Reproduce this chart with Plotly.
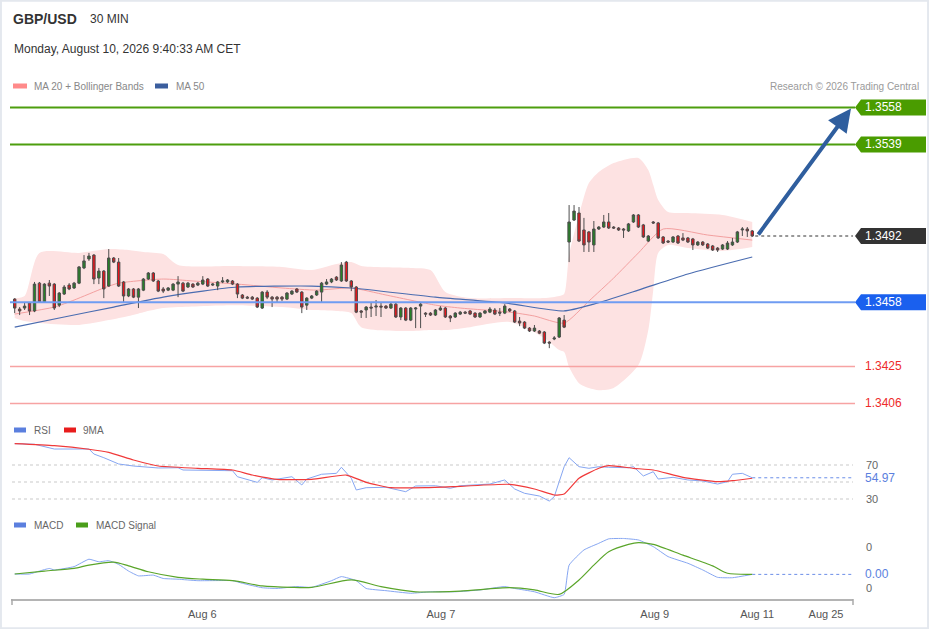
import plotly.graph_objects as go

# ---------------- data ----------------
open_ = [1.34596,1.34545,1.34550,1.34576,1.34535,1.34678,1.34581,1.34678,1.34673,1.34565,
 1.34622,1.34668,1.34653,1.34678,1.34756,1.34802,1.34822,1.34704,1.34740,1.34663,
 1.34807,1.34786,1.34684,1.34612,1.34648,1.34606,1.34642,1.34699,1.34730,1.34689,
 1.34648,1.34642,1.34642,1.34673,1.34678,1.34658,1.34673,1.34668,1.34673,1.34699,
 1.34668,1.34663,1.34684,1.34684,1.34689,1.34673,1.34617,1.34606,1.34606,1.34601,
 1.34550,1.34632,1.34606,1.34606,1.34606,1.34596,1.34622,1.34648,1.34632,1.34565,
 1.34601,1.34617,1.34632,1.34673,1.34684,1.34709,1.34689,1.34786,1.34689,1.34658,
 1.34535,1.34540,1.34555,1.34555,1.34560,1.34560,1.34550,1.34570,1.34504,1.34550,
 1.34488,1.34545,1.34560,1.34524,1.34524,1.34514,1.34540,1.34550,1.34509,1.34504,
 1.34519,1.34529,1.34535,1.34524,1.34504,1.34524,1.34529,1.34540,1.34529,1.34524,
 1.34545,1.34535,1.34483,1.34478,1.34447,1.34432,1.34432,1.34427,1.34375,1.34391,
 1.34401,1.34488,1.34889,1.35002,1.35038,1.34951,1.34941,1.34874,1.34956,1.34966,
 1.34992,1.34966,1.34961,1.34956,1.34946,1.34992,1.35028,1.34977,1.34894,1.34992,
 1.34987,1.34915,1.34894,1.34889,1.34920,1.34910,1.34910,1.34905,1.34874,1.34889,
 1.34879,1.34869,1.34858,1.34853,1.34853,1.34874,1.34889,1.34951,1.34956,1.34946]
high = [1.34601,1.34555,1.34576,1.34581,1.34684,1.34684,1.34678,1.34694,1.34678,1.34632,
 1.34668,1.34678,1.34684,1.34766,1.34822,1.34833,1.34827,1.34756,1.34745,1.34853,
 1.34812,1.34807,1.34689,1.34653,1.34653,1.34653,1.34704,1.34735,1.34735,1.34694,
 1.34658,1.34658,1.34678,1.34714,1.34684,1.34684,1.34678,1.34684,1.34714,1.34704,
 1.34678,1.34689,1.34709,1.34699,1.34694,1.34678,1.34622,1.34612,1.34612,1.34606,
 1.34637,1.34642,1.34612,1.34612,1.34612,1.34632,1.34642,1.34653,1.34637,1.34606,
 1.34617,1.34642,1.34684,1.34699,1.34704,1.34714,1.34786,1.34792,1.34694,1.34663,
 1.34540,1.34560,1.34581,1.34591,1.34581,1.34565,1.34576,1.34576,1.34555,1.34555,
 1.34555,1.34555,1.34581,1.34529,1.34529,1.34545,1.34560,1.34555,1.34514,1.34529,
 1.34535,1.34535,1.34540,1.34529,1.34529,1.34540,1.34555,1.34550,1.34550,1.34570,
 1.34550,1.34540,1.34504,1.34483,1.34452,1.34463,1.34437,1.34432,1.34380,1.34406,
 1.34504,1.34514,1.35079,1.35079,1.35069,1.35013,1.34946,1.34997,1.34971,1.35028,
 1.35038,1.34971,1.34966,1.34961,1.34987,1.35033,1.35033,1.34982,1.34925,1.34997,
 1.34992,1.34920,1.34899,1.34920,1.34925,1.34935,1.34915,1.34910,1.34894,1.34894,
 1.34884,1.34874,1.34863,1.34879,1.34894,1.34910,1.34946,1.34966,1.34966,1.34951]
low = [1.34524,1.34514,1.34540,1.34514,1.34529,1.34576,1.34576,1.34612,1.34540,1.34555,
 1.34617,1.34642,1.34648,1.34673,1.34750,1.34792,1.34673,1.34673,1.34601,1.34658,
 1.34781,1.34658,1.34576,1.34606,1.34601,1.34550,1.34637,1.34694,1.34684,1.34632,
 1.34627,1.34637,1.34637,1.34606,1.34632,1.34653,1.34653,1.34663,1.34668,1.34658,
 1.34663,1.34642,1.34678,1.34678,1.34668,1.34601,1.34596,1.34596,1.34591,1.34550,
 1.34545,1.34596,1.34555,1.34581,1.34586,1.34591,1.34617,1.34627,1.34524,1.34540,
 1.34596,1.34612,1.34581,1.34668,1.34678,1.34689,1.34684,1.34684,1.34637,1.34524,
 1.34499,1.34499,1.34504,1.34509,1.34504,1.34545,1.34545,1.34499,1.34488,1.34483,
 1.34483,1.34447,1.34447,1.34504,1.34509,1.34509,1.34535,1.34499,1.34478,1.34499,
 1.34514,1.34519,1.34514,1.34499,1.34499,1.34519,1.34524,1.34514,1.34509,1.34519,
 1.34529,1.34473,1.34457,1.34442,1.34427,1.34427,1.34416,1.34365,1.34344,1.34385,
 1.34396,1.34447,1.34786,1.34997,1.34889,1.34838,1.34838,1.34838,1.34951,1.34961,
 1.34956,1.34956,1.34946,1.34910,1.34941,1.34987,1.34961,1.34910,1.34889,1.34982,
 1.34905,1.34879,1.34884,1.34884,1.34879,1.34894,1.34884,1.34848,1.34869,1.34869,
 1.34853,1.34843,1.34838,1.34848,1.34848,1.34869,1.34884,1.34920,1.34915,1.34915]
close = [1.34550,1.34535,1.34560,1.34535,1.34673,1.34581,1.34673,1.34663,1.34550,1.34627,
 1.34658,1.34648,1.34678,1.34761,1.34792,1.34817,1.34699,1.34740,1.34648,1.34807,
 1.34786,1.34663,1.34612,1.34648,1.34606,1.34648,1.34699,1.34730,1.34689,1.34637,
 1.34637,1.34653,1.34673,1.34684,1.34637,1.34678,1.34658,1.34678,1.34694,1.34663,
 1.34673,1.34684,1.34689,1.34694,1.34673,1.34622,1.34601,1.34601,1.34596,1.34555,
 1.34632,1.34606,1.34596,1.34596,1.34596,1.34627,1.34637,1.34632,1.34555,1.34601,
 1.34612,1.34637,1.34678,1.34684,1.34699,1.34694,1.34771,1.34689,1.34658,1.34529,
 1.34529,1.34555,1.34550,1.34560,1.34555,1.34550,1.34570,1.34504,1.34550,1.34488,
 1.34550,1.34550,1.34570,1.34519,1.34514,1.34540,1.34550,1.34504,1.34499,1.34524,
 1.34529,1.34524,1.34519,1.34504,1.34524,1.34535,1.34545,1.34519,1.34524,1.34560,
 1.34535,1.34478,1.34473,1.34447,1.34432,1.34447,1.34421,1.34370,1.34370,1.34396,
 1.34499,1.34452,1.34992,1.35048,1.34894,1.34874,1.34889,1.34956,1.34966,1.34992,
 1.34961,1.34961,1.34951,1.34951,1.34982,1.35028,1.34966,1.34915,1.34920,1.34987,
 1.34910,1.34884,1.34889,1.34915,1.34884,1.34899,1.34889,1.34874,1.34889,1.34874,
 1.34858,1.34848,1.34848,1.34874,1.34884,1.34889,1.34941,1.34956,1.34946,1.34920]

ma20_idx = [0, 8, 12, 18, 21, 30, 36, 45, 54, 61, 68, 75, 85, 90, 100, 105, 111, 116, 121, 126, 131, 140, 149]
ma20 = [1.34519, 1.34555, 1.34591, 1.34653, 1.34678, 1.34699, 1.34689, 1.34673, 1.34653, 1.34642, 1.34653,
        1.34617, 1.34565, 1.34550, 1.34529, 1.34509, 1.34473, 1.34586, 1.34704, 1.34833, 1.34956, 1.34925, 1.34899]

ma50_idx = [0, 10, 20, 30, 38, 45, 60, 68, 85, 99, 111, 117, 126, 136, 149]
ma50 = [1.34452, 1.34504, 1.34555, 1.34606, 1.34637, 1.34658, 1.34663, 1.34653, 1.34606, 1.34576,
        1.34535, 1.34570, 1.34642, 1.34725, 1.34812]

bb_idx = [0, 2, 5, 13, 19, 23, 26, 30, 33, 44, 54, 60, 65, 68, 70, 80, 84, 87, 92, 100, 107, 110, 111,
          112, 114, 116, 118, 121, 126, 128, 129, 130, 132, 136, 143, 149]
bb_upper = [1.34601, 1.34612, 1.34833, 1.34833, 1.34853, 1.34848, 1.34838, 1.34827, 1.34771, 1.34766,
            1.34761, 1.34745, 1.34776, 1.34786, 1.34766, 1.34756, 1.34745, 1.34632, 1.34601, 1.34601,
            1.34601, 1.34612, 1.34622, 1.34822, 1.35028, 1.35192, 1.35249, 1.35295, 1.35321, 1.35259,
            1.35182, 1.35105, 1.35043, 1.35038, 1.35028, 1.34992]
bb_lower = [1.34499, 1.34483, 1.34473, 1.34463, 1.34488, 1.34509, 1.34529, 1.34550, 1.34555, 1.34565,
            1.34555, 1.34540, 1.34535, 1.34524, 1.34452, 1.34432, 1.34437, 1.34437, 1.34452, 1.34478,
            1.34396, 1.34334, 1.34324, 1.34247, 1.34164, 1.34139, 1.34128, 1.34139, 1.34257, 1.34437,
            1.34642, 1.34833, 1.34874, 1.34858, 1.34843, 1.34863]

rsi_idx = [0,4,8,15,16,18,21,24,29,33,34,41,44,45,49,50,52,56,58,59,62,65,66,68,69,71,75,79,81,85,88,90,
           96,99,101,103,106,108,109,110,111,112,114,116,118,120,124,125,127,129,130,133,136,139,142,144,145,147,149]
rsi = [95.1,94.4,88.8,88.8,82.9,78.6,71.2,68.8,66.5,66.8,64.1,64.1,63.3,56.2,49.6,55.1,52.4,56.2,46.5,53.5,
       59.1,60.2,67.3,54.4,40.6,43.3,43.8,38.6,45.3,45.6,42.6,45.6,47.6,52.4,41.8,36.7,33.5,27.6,32.7,50.4,
       68.0,78.6,68.0,66.1,68.0,67.3,66.8,68.0,57.1,62.1,53.5,55.5,52.4,51.2,47.6,50.4,59.1,60.2,54.97]

rsi_ma_idx = [0,8,15,19,24,29,37,44,48,53,60,67,71,76,83,90,100,105,109,111,114,118,120,125,129,135,142,145,149]
rsi_ma = [95.1,92.7,88.5,84.9,75.9,68.8,66.1,64.1,58.2,53.2,53.2,58.2,49.6,43.3,43.3,44.9,47.3,41.8,34.7,35.9,
          54.4,66.1,69.2,66.1,64.1,55.5,50.4,51.5,54.4]

macd_idx = [0,3,5,7,8,12,15,17,19,21,23,25,28,30,33,37,44,46,50,53,57,60,64,66,69,71,75,80,84,89,94,99,101,
            105,109,111,112,115,118,120,123,126,129,132,136,139,142,145,149]
macd = [-0.00023,-0.00023,-0.00015,-0.00008,-0.00012,-0.00003,0.00017,0.0001,0.00013,0.00003,-0.00015,-0.00028,
        -0.00026,-0.00035,-0.00037,-0.00041,-0.00041,-0.00048,-0.0006,-0.00062,-0.00057,-0.00059,-0.00041,-0.0003,
        -0.00041,-0.00062,-0.00068,-0.00075,-0.00071,-0.00071,-0.00066,-0.00057,-0.00062,-0.00071,-0.00087,-0.00078,
        0.00001,0.00042,0.0006,0.00072,0.00073,0.00069,0.00051,0.00024,0.00006,-0.00012,-0.00032,-0.00033,-0.00024]
sig_idx = [0,6,12,15,20,23,27,33,38,44,50,56,60,68,74,81,90,100,105,110,114,117,120,124,126,129,135,141,144,149]
signal = [-0.00023,-0.00015,-0.00008,0.00001,0.00009,-0.00001,-0.00017,-0.00032,-0.00037,-0.00041,-0.00055,
          -0.00059,-0.00059,-0.00039,-0.00057,-0.00071,-0.00069,-0.0006,-0.00066,-0.00078,-0.00039,0.00001,
          0.00037,0.00057,0.00062,0.00057,0.00028,-0.00001,-0.00021,-0.00024]

tick_pos = [37.9, 86.1, 129.3, 150.0, 163.9]
tick_text = ["Aug 6", "Aug 7", "Aug 9", "Aug 11", "Aug 25"]

target_1, target_2 = 1.3558, 1.3539
pivot = 1.3458
support_1, support_2 = 1.3425, 1.3406
last_price = 1.3492
rsi_last_label = "54.97"
macd_last_label = "0.00"

# ---------------- geometry helpers ----------------
W, H = 929, 629
def px(x): return x / W
def py(y): return 1 - y / H
FONT = "Liberation Sans, Arial, sans-serif"
PRICE_RANGE = [1.340007, 1.356442]

fig = go.Figure()

# Bollinger band shading (base axis, drawn below the candles on the overlay axis)
fig.add_trace(go.Scatter(x=bb_idx, y=bb_upper, mode="lines", hoverinfo="skip",
                         line=dict(width=0, shape="spline", smoothing=0.7), showlegend=False))
fig.add_trace(go.Scatter(x=bb_idx, y=bb_lower, mode="lines", hoverinfo="skip", fill="tonexty",
                         fillcolor="#fde2e2",
                         line=dict(width=0, shape="spline", smoothing=0.7), showlegend=False))
fig.add_trace(go.Scatter(x=ma20_idx, y=ma20, mode="lines",
                         line=dict(color="#f3a0a0", width=1, shape="spline", smoothing=0.6), showlegend=False))
fig.add_trace(go.Scatter(x=ma50_idx, y=ma50, mode="lines",
                         line=dict(color="#4a6cb0", width=1.2, shape="spline", smoothing=0.6), showlegend=False))
fig.add_trace(go.Candlestick(x=list(range(len(close))), open=open_, high=high, low=low, close=close,
                             yaxis="y4",
                             increasing=dict(fillcolor="#268226", line=dict(color="#4d4d4d", width=1)),
                             decreasing=dict(fillcolor="#e8141a", line=dict(color="#4d4d4d", width=1)),
                             whiskerwidth=0, showlegend=False))

# RSI panel
fig.add_trace(go.Scatter(x=rsi_idx, y=rsi, mode="lines", yaxis="y2",
                         line=dict(color="#86a6f2", width=1), showlegend=False))
fig.add_trace(go.Scatter(x=rsi_ma_idx, y=rsi_ma, mode="lines", yaxis="y2",
                         line=dict(color="#f03a3a", width=1.2, shape="spline", smoothing=0.5), showlegend=False))

# MACD panel
fig.add_trace(go.Scatter(x=macd_idx, y=macd, mode="lines", yaxis="y3",
                         line=dict(color="#86a6f2", width=1, shape="spline", smoothing=0.4), showlegend=False))
fig.add_trace(go.Scatter(x=sig_idx, y=signal, mode="lines", yaxis="y3",
                         line=dict(color="#5aa52a", width=1.2, shape="spline", smoothing=0.7), showlegend=False))

shapes = []
annotations = []

# outer frame
shapes.append(dict(type="rect", xref="paper", yref="paper", x0=0.001, x1=0.999, y0=0.001, y1=0.999,
                   line=dict(color="#e4e8ee", width=2), layer="below"))

# level lines
lvl_x0, lvl_x1 = px(10), px(855)
for val, col, w in [(target_1, "#4d9e0e", 2), (target_2, "#4d9e0e", 2), (pivot, "#6f9cf2", 2),
                    (support_1, "#f7a3a3", 1.5), (support_2, "#f7a3a3", 1.5)]:
    shapes.append(dict(type="line", xref="paper", yref="y", x0=lvl_x0, x1=lvl_x1, y0=val, y1=val,
                       line=dict(color=col, width=w)))

# dotted continuation lines
n = len(close)
shapes.append(dict(type="line", xref="x", yref="y", x0=n - 0.4, x1=169.5, y0=last_price, y1=last_price,
                   line=dict(color="#333333", width=1, dash="dot")))
shapes.append(dict(type="line", xref="x", yref="y2", x0=n - 1, x1=169.5, y0=rsi[-1], y1=rsi[-1],
                   line=dict(color="#6b8ee8", width=1, dash="dot")))
shapes.append(dict(type="line", xref="x", yref="y3", x0=n - 1, x1=169.5, y0=macd[-1], y1=macd[-1],
                   line=dict(color="#6b8ee8", width=1, dash="dot")))

# RSI grid
for g in (70, 50, 30):
    shapes.append(dict(type="line", xref="paper", yref="y2", x0=px(12), x1=px(853), y0=g, y1=g,
                       line=dict(color="#c9c9c9", width=1, dash="dot"), layer="below"))

# tags
def tag(val, color):
    return dict(type="path", xref="paper", yref="y", xsizemode="pixel", ysizemode="pixel",
                xanchor=px(855), yanchor=val, path="M 0 0 L 6 8 L 71 8 L 71 -8 L 6 -8 Z",
                fillcolor=color, line=dict(width=0))
shapes += [tag(target_1, "#4a9c00"), tag(target_2, "#4a9c00"), tag(last_price, "#333333"),
           tag(pivot, "#1a60ee")]

for val, txt in [(target_1, "1.3558"), (target_2, "1.3539"), (last_price, "1.3492"), (pivot, "1.3458")]:
    annotations.append(dict(x=px(863), y=val, xref="paper", yref="y", text=txt, showarrow=False,
                            xanchor="left", yanchor="middle", font=dict(family=FONT, size=12, color="white")))
for val, txt in [(support_1, "1.3425"), (support_2, "1.3406")]:
    annotations.append(dict(x=px(863), y=val, xref="paper", yref="y", text=txt, showarrow=False,
                            xanchor="left", yanchor="middle", font=dict(family=FONT, size=12, color="#ee2a2a")))

# RSI labels
for g in (70, 30):
    annotations.append(dict(x=px(864), y=g, xref="paper", yref="y2", text=str(g), showarrow=False,
                            xanchor="left", yanchor="middle", font=dict(family=FONT, size=11, color="#666")))
annotations.append(dict(x=px(864), y=rsi[-1], xref="paper", yref="y2", text=rsi_last_label, showarrow=False,
                        xanchor="left", yanchor="middle", bgcolor="white", borderpad=0,
                        font=dict(family=FONT, size=12, color="#5b7fde")))
# MACD labels
annotations.append(dict(x=px(864), y=0.0005, xref="paper", yref="y3", text="0", showarrow=False,
                        xanchor="left", yanchor="middle", font=dict(family=FONT, size=11, color="#666")))
annotations.append(dict(x=px(864), y=-0.00062, xref="paper", yref="y3", text="0", showarrow=False,
                        xanchor="left", yanchor="middle", font=dict(family=FONT, size=11, color="#666")))
annotations.append(dict(x=px(864), y=macd[-1], xref="paper", yref="y3", text=macd_last_label, showarrow=False,
                        xanchor="left", yanchor="middle", bgcolor="white", borderpad=0,
                        font=dict(family=FONT, size=12, color="#5b7fde")))

# blue arrow
annotations.append(dict(x=168.95, y=1.35575, ax=n, ay=last_price, xref="x", yref="y", axref="x", ayref="y",
                        text="", showarrow=True, arrowhead=2, arrowsize=1.15, arrowwidth=4,
                        arrowcolor="#2f5e9e", standoff=0, startstandoff=0))

# header
annotations.append(dict(x=px(11), y=py(19), xref="paper", yref="paper", text="<b>GBP/USD</b>", showarrow=False,
                        xanchor="left", yanchor="middle", font=dict(family=FONT, size=14, color="#333")))
annotations.append(dict(x=px(88), y=py(19), xref="paper", yref="paper", text="30 MIN", showarrow=False,
                        xanchor="left", yanchor="middle", font=dict(family=FONT, size=12, color="#333")))
annotations.append(dict(x=px(12), y=py(49), xref="paper", yref="paper",
                        text="Monday, August 10, 2026 9:40:33 AM CET", showarrow=False,
                        xanchor="left", yanchor="middle", font=dict(family=FONT, size=12, color="#333")))
annotations.append(dict(x=px(921), y=py(86), xref="paper", yref="paper",
                        text="Research © 2026 Trading Central", showarrow=False,
                        xanchor="right", yanchor="middle", font=dict(family=FONT, size=10, color="#9a9a9a")))

# legends
def swatch(x0, x1, yc, color):
    return dict(type="rect", xref="paper", yref="paper", x0=px(x0), x1=px(x1), y0=py(yc + 2.5), y1=py(yc - 2.5),
                fillcolor=color, line=dict(width=0))
def ltext(x, yc, txt, color="#777"):
    return dict(x=px(x), y=py(yc), xref="paper", yref="paper", text=txt, showarrow=False,
                xanchor="left", yanchor="middle", font=dict(family=FONT, size=10, color=color))

shapes += [swatch(13, 27, 86, "#ff8a8a"), swatch(155, 168, 86, "#3b5e9e"),
           swatch(14, 26, 430, "#5b7fde"), swatch(64, 76, 430, "#e81c1c"),
           swatch(14, 26, 525, "#5b7fde"), swatch(76, 88, 525, "#4a9e1a")]
annotations += [ltext(32, 86, "MA 20 + Bollinger Bands", "#888"), ltext(174, 86, "MA 50", "#888"),
                ltext(32, 430, "RSI", "#666"), ltext(81, 430, "9MA", "#666"),
                ltext(32, 525, "MACD", "#666"), ltext(94, 525, "MACD Signal", "#666")]

# axis end ticks
for xe in (12, 853):
    shapes.append(dict(type="line", xref="paper", yref="paper", x0=px(xe), x1=px(xe), y0=py(599), y1=py(605),
                       line=dict(color="#aaaaaa", width=1.5)))

x_lo = (11 - 14.7) / 4.95
x_hi = (853 - 14.7) / 4.95

fig.update_layout(
    width=W, height=H, margin=dict(l=0, r=0, t=0, b=0),
    paper_bgcolor="white", plot_bgcolor="white", showlegend=False,
    font=dict(family=FONT),
    xaxis=dict(domain=[px(11), px(853)], range=[x_lo, x_hi], anchor="y3",
               showline=True, linecolor="#b4b4b4", linewidth=2, showgrid=False, zeroline=False,
               tickmode="array", tickvals=tick_pos, ticktext=tick_text,
               ticks="outside", ticklen=4, tickcolor="rgba(0,0,0,0)",
               tickfont=dict(family=FONT, size=11, color="#555"), rangeslider=dict(visible=False)),
    yaxis=dict(domain=[py(415), py(95)], range=PRICE_RANGE, visible=False, anchor="x"),
    yaxis4=dict(overlaying="y", range=PRICE_RANGE, visible=False, anchor="x"),
    yaxis2=dict(domain=[py(505), py(440)], range=[22.94, 99.41], visible=False, anchor="x"),
    yaxis3=dict(domain=[py(599), py(530)], range=[-0.000905, 0.000959], visible=False, anchor="x"),
    shapes=shapes, annotations=annotations,
)

fig.write_html("out.html", config={"displayModeBar": False, "staticPlot": True},
               post_script="document.body.style.margin='0';document.body.style.padding='0';"
                           "document.documentElement.style.overflow='hidden';")
